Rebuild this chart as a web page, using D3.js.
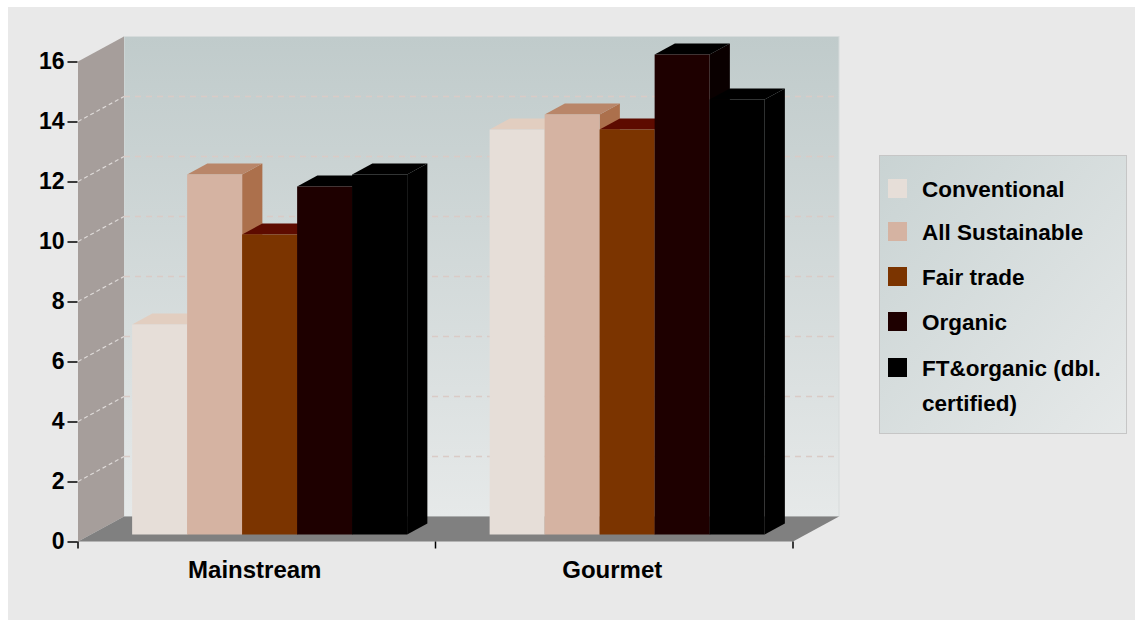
<!DOCTYPE html>
<html>
<head>
<meta charset="utf-8">
<script src="https://cdn.jsdelivr.net/npm/d3@7"></script>
<style>
  body { margin: 0; background: #ffffff; }
  svg { display: block; }
  text { font-family: "Liberation Sans", Arial, sans-serif; font-weight: bold; fill: #000; }
</style>
</head>
<body>
<svg id="chart" width="1135" height="622"></svg>
<script>
// ---- data ----
const categories = ["Mainstream", "Gourmet"];
const seriesNames = ["Conventional", "All Sustainable", "Fair trade", "Organic", "FT&organic (dbl. certified)"];
const conventional   = [7, 13.5];
const allSustainable = [12, 14];
const fairTrade      = [10, 13.5];
const organic        = [11.6, 16];
const ftOrganic      = [12, 14.5];
const yTickValues = [0, 2, 4, 6, 8, 10, 12, 14, 16];
const seriesValues = [conventional, allSustainable, fairTrade, organic, ftOrganic];

// ---- styles ----
const frontColors = ["#e6ded8", "#d5b3a2", "#7b3400", "#1e0000", "#000000"];
const topColors   = ["#e2cec0", "#b98669", "#5d0b00", "#000000", "#000000"];
const sideColors  = ["#d9c2b4", "#ac704c", "#5d1c00", "#0a0000", "#000000"];

const svg = d3.select("#chart");
const DX = 46, DY = 25;          // depth projection of the full box
const d0 = 0.28, d1 = 0.72;      // bar front/back depth fractions
const P = (x, y, d) => [x + d * DX, y - d * DY];

const y = d3.scaleLinear().domain([0, 16]).range([541.5, 61.5]);
const x = d3.scaleBand().domain(categories).range([78, 793]).paddingInner(0).paddingOuter(0);
const inner = d3.scaleBand().domain(seriesNames).range([0, x.bandwidth()]).paddingOuter(0.75).paddingInner(0);

// defs
const defs = svg.append("defs");
const wallGrad = defs.append("linearGradient").attr("id", "wallGrad").attr("x1", 0).attr("y1", 0).attr("x2", 0).attr("y2", 1);
wallGrad.append("stop").attr("offset", "0%").attr("stop-color", "#c0cbcb");
wallGrad.append("stop").attr("offset", "100%").attr("stop-color", "#e6e9e9");
const legGrad = defs.append("linearGradient").attr("id", "legGrad").attr("x1", 0).attr("y1", 0).attr("x2", 1).attr("y2", 1);
legGrad.append("stop").attr("offset", "0%").attr("stop-color", "#c9d3d3");
legGrad.append("stop").attr("offset", "100%").attr("stop-color", "#e6e9e9");

// panel
svg.append("rect").attr("x", 8).attr("y", 7).attr("width", 1127).attr("height", 613).attr("fill", "#e9e9e9");

const xL = x.range()[0], xR = x.range()[1];
const line = d3.line();

// back wall
const bw0 = P(xL, y(16), 1), bw1 = P(xR, y(0), 1);
svg.append("rect").attr("x", bw0[0]).attr("y", bw0[1]).attr("width", bw1[0] - bw0[0]).attr("height", bw1[1] - bw0[1])
  .attr("fill", "url(#wallGrad)").attr("stroke", "#d6dbdb").attr("stroke-width", 1);

// left wall
svg.append("path").attr("d", line([P(xL, y(0), 0), P(xL, y(16), 0), P(xL, y(16), 1), P(xL, y(0), 1)]) + "Z")
  .attr("fill", "#a69e9b");

// floor
svg.append("path").attr("d", line([P(xL, y(0), 0), P(xL, y(0), 1), P(xR, y(0), 1), P(xR, y(0), 0)]) + "Z")
  .attr("fill", "#808080");

// gridlines
const gridVals = yTickValues.filter(v => v > 0 && v < 16);
gridVals.forEach(v => {
  const a = P(xL, y(v), 1), b = P(xR, y(v), 1);
  svg.append("line").attr("x1", a[0]).attr("y1", a[1]).attr("x2", b[0]).attr("y2", b[1])
    .attr("stroke", "#dacbc6").attr("stroke-width", 1.3).attr("stroke-dasharray", "6,5");
  const c = P(xL, y(v), 0);
  svg.append("line").attr("x1", c[0]).attr("y1", c[1]).attr("x2", a[0]).attr("y2", a[1])
    .attr("stroke", "#dedad8").attr("stroke-width", 1.2).attr("stroke-dasharray", "4,3");
});

// bars
categories.forEach((cat, ci) => {
  seriesNames.forEach((s, si) => {
    const v = seriesValues[si][ci];
    const x0 = x(cat) + inner(s), x1 = x0 + inner.bandwidth();
    const yt = y(v), yb = y(0);
    const g = svg.append("g");
    g.append("path").attr("d", line([P(x1, yb, d0), P(x1, yt, d0), P(x1, yt, d1), P(x1, yb, d1)]) + "Z")
      .attr("fill", sideColors[si]);
    g.append("path").attr("d", line([P(x0, yt, d0), P(x1, yt, d0), P(x1, yt, d1), P(x0, yt, d1)]) + "Z")
      .attr("fill", topColors[si]);
    g.append("path").attr("d", line([P(x0, yb, d0), P(x1, yb, d0), P(x1, yt, d0), P(x0, yt, d0)]) + "Z")
      .attr("fill", frontColors[si]);
  });
});

// y axis
const yAxis = d3.axisLeft(y).tickValues(yTickValues).tickSize(10).tickPadding(3).tickFormat(d3.format("d"));
const ya = svg.append("g").attr("transform", `translate(${xL - 0.5},0)`).call(yAxis);
ya.select(".domain").remove();
ya.selectAll(".tick line").attr("stroke", "#000").attr("stroke-width", 1.5);
ya.selectAll(".tick text").attr("font-size", 23).attr("font-family", "Liberation Sans, Arial, sans-serif").attr("font-weight", "bold").attr("fill", "#000");

// x axis ticks at band boundaries
const bounds = categories.map(c => x(c)).concat([xR]);
bounds.forEach(bx => {
  svg.append("line").attr("x1", bx).attr("x2", bx).attr("y1", y(0)).attr("y2", y(0) + 7)
    .attr("stroke", "#000").attr("stroke-width", 1.5);
});
categories.forEach(c => {
  svg.append("text").attr("x", x(c) + x.bandwidth() / 2 - 2).attr("y", 578)
    .attr("text-anchor", "middle").attr("font-size", 24).text(c);
});

// legend
svg.append("rect").attr("x", 879.5).attr("y", 155.5).attr("width", 247).attr("height", 278)
  .attr("fill", "url(#legGrad)").attr("stroke", "#c6c6c6");
const legY = [188.5, 231.5, 276.5, 321.5, 367.5];
const legLines = [["Conventional"], ["All Sustainable"], ["Fair trade"], ["Organic"], ["FT&organic (dbl.", "certified)"]];
seriesNames.forEach((s, i) => {
  svg.append("rect").attr("x", 888).attr("y", legY[i] - 9.5).attr("width", 19).attr("height", 19).attr("fill", frontColors[i]);
  const t = svg.append("text").attr("x", 922).attr("y", legY[i] + 8).attr("font-size", 22.5);
  legLines[i].forEach((ln, k) => {
    t.append("tspan").attr("x", 922).attr("dy", k === 0 ? 0 : 35).text(ln);
  });
});
</script>
</body>
</html>
